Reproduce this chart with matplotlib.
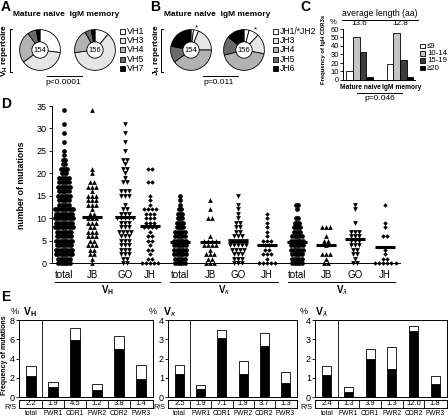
import numpy as np
import matplotlib
matplotlib.use('Agg')
import matplotlib.pyplot as plt
from matplotlib.patches import Circle, Rectangle
from matplotlib.lines import Line2D

plt.rcParams['font.family'] = ['Liberation Sans', 'DejaVu Sans']
plt.rcParams['axes.linewidth'] = 0.7
plt.rcParams['mathtext.fontset'] = 'custom'
plt.rcParams['mathtext.rm'] = 'Liberation Sans'
plt.rcParams['mathtext.bf'] = 'Liberation Sans:bold'

# ---- data ----
n_seq = [154, 156]
vh_labels = ['VH1', 'VH3', 'VH4', 'VH5', 'VH7']
vh_naive = [27, 38, 25, 7, 3]
vh_memory = [11, 62, 19, 5, 3]
jh_labels = ['JH1/*JH2', 'JH3', 'JH4', 'JH5', 'JH6']
jh_naive = [2, 4, 19, 40, 13, 22]      # JH1, JH2, JH3, JH4, JH5, JH6
jh_memory = [4, 8, 16, 43, 15, 14]

cdr3_labels = ['\u22649', '10-14', '15-19', '\u226520']
cdr3_groups = ['Mature naive', 'IgM memory']
cdr3_naive = [11, 51, 33, 4]
cdr3_memory = [19, 55, 24, 4]
cdr3_avg = ['13.6', '12.8']

# number of sequences with 0, 1, 2, ... mutations
vh_total = [6, 6, 8, 8, 7, 8, 7, 7, 9, 8, 9, 8, 9, 5, 5, 6, 5, 6, 5, 5, 3, 4, 2, 2, 1, 1, 0, 1, 0, 1, 0, 1, 0, 0, 1]
vh_jb = [1, 1, 2, 2, 3, 2, 3, 3, 2, 3, 3, 2, 1, 3, 3, 3, 1, 3, 2, 0, 1, 1, 0, 0, 0, 0, 0, 0, 0, 0, 0, 0, 0, 0, 1]
vh_go = [2, 2, 3, 3, 3, 3, 3, 4, 3, 3, 5, 3, 2, 1, 0, 3, 3, 0, 2, 1, 1, 2, 1, 2, 0, 1, 0, 1, 0, 1, 0, 1]
vh_jh = [5, 2, 1, 2, 1, 2, 2, 1, 4, 3, 3, 3, 4, 1, 1, 1, 0, 0, 2, 0, 0, 2]
vk_total = [5, 5, 6, 6, 6, 6, 5, 5, 4, 4, 3, 3, 2, 1, 1, 1]
vk_jb = [3, 2, 3, 1, 4, 4, 1, 0, 0, 0, 2, 0, 1, 0, 1]
vk_go = [3, 3, 3, 4, 5, 5, 3, 2, 2, 2, 1, 1, 1, 1, 0, 1]
vk_jh = [5, 1, 3, 2, 2, 3, 1, 1, 1, 1, 1, 1]
vl_total = [5, 5, 5, 6, 6, 6, 5, 4, 4, 3, 2, 0, 1, 2]
vl_jb = [2, 1, 3, 0, 1, 2, 1, 0, 3]
vl_go = [2, 1, 2, 2, 3, 3, 3, 3, 0, 1, 0, 0, 1, 1]
vl_jh = [6, 2, 1, 1, 0, 0, 2, 0, 1, 1, 0, 0, 0, 1]
mut_groups = ['total', 'JB', 'GO', 'JH'] * 3
mut_means = [10.5, 10.2, 10.2, 8.3, 4.6, 4.7, 4.8, 4.0, 4.6, 4.0, 5.3, 3.6]

regions = ['total', 'FWR1', 'CDR1', 'FWR2', 'CDR2', 'FWR3']
vh_r = [2.2, 1.0, 5.9, 0.75, 5.0, 1.9]
vh_s = [1.0, 0.55, 1.3, 0.6, 1.3, 1.4]
vh_rs = ['2.2', '1.9', '4.5', '1.2', '3.8', '1.4']
vk_r = [1.2, 0.4, 3.05, 1.2, 2.65, 0.75]
vk_s = [0.45, 0.2, 0.45, 0.65, 0.7, 0.55]
vk_rs = ['2.5', '1.9', '7.1', '1.9', '3.7', '1.3']
vl_r = [1.12, 0.26, 2.0, 1.45, 3.42, 0.7]
vl_s = [0.48, 0.24, 0.5, 1.15, 0.28, 0.4]
vl_rs = ['2.4', '1.3', '3.9', '1.3', '12.0', '1.8']

# ---- layout helpers (pixel coordinates, origin top-left) ----
W, H = 448, 419
fig = plt.figure(figsize=(W / 100, H / 100), dpi=100)


def box(l, t, r, b):
    return [l / W, 1 - b / H, (r - l) / W, (b - t) / H]


def ftxt(x, y, s, **kw):
    kw.setdefault('ha', 'center')
    kw.setdefault('va', 'center')
    fig.text(x / W, 1 - y / H, s, **kw)


def fline(xs, ys, lw=0.7):
    fig.add_artist(Line2D([x / W for x in xs], [1 - y / H for y in ys],
                          color='black', lw=lw, transform=fig.transFigure))


def frect(x, y, w, h, fc):
    fig.add_artist(Rectangle((x / W, 1 - (y + h) / H), w / W, h / H, facecolor=fc,
                             edgecolor='black', lw=0.6, transform=fig.transFigure))


def donut(cx, cy, r, vals, colors, n, star=None):
    ax = fig.add_axes(box(cx - r, cy - r, cx + r, cy + r))
    ax.pie(vals, colors=colors, startangle=90, counterclock=False, radius=1,
           wedgeprops=dict(edgecolor='black', linewidth=0.6))
    ax.add_patch(Circle((0, 0), 0.4, facecolor='white', edgecolor='black', lw=0.6, zorder=5))
    ax.text(0, 0, str(n), ha='center', va='center', fontsize=5.5, zorder=6)
    if star is not None:
        a = (sum(vals[:star]) + vals[star] / 2) / sum(vals) * 2 * np.pi
        ax.text(1.12 * np.sin(a), 1.12 * np.cos(a), '*', ha='center', va='center', fontsize=6)
    ax.set_xlim(-1.03, 1.03)
    ax.set_ylim(-1.03, 1.03)
    ax.set_aspect('equal')
    ax.axis('off')


greys = ['white', '#e6e6e6', '#b2b2b2', '#6a6a6a', 'black']

# ---- A ----
ftxt(1, 0, 'A', ha='left', va='top', fontsize=10, fontweight='bold')
ftxt(66, 15, 'Mature naive  IgM memory', fontsize=6, fontweight='bold')
donut(40, 50, 21, vh_naive, greys, n_seq[0])
donut(95, 50, 21, vh_memory, greys, n_seq[1])
for i, lab in enumerate(vh_labels):
    frect(120, 29 + i * 9.2, 5, 5, greys[i])
    ftxt(127, 31.5 + i * 9.2, lab, ha='left', fontsize=6.5)
fline([12, 10, 10, 12], [29, 29, 72, 72])
ftxt(5, 50, 'V$_\\mathregular{H}$ repertoire', rotation=90, fontsize=6, fontweight='bold')
fline([47, 82], [76, 76])
ftxt(63, 82, 'p<0.0001', fontsize=6)

# ---- B ----
ftxt(150, 0, 'B', ha='left', va='top', fontsize=10, fontweight='bold')
ftxt(217, 15, 'Mature naive  IgM memory', fontsize=6, fontweight='bold')
jh_cols = ['white'] + greys
donut(191, 50, 21, jh_naive, jh_cols, n_seq[0], star=1)
donut(244, 50, 21, jh_memory, jh_cols, n_seq[1], star=1)
for i, lab in enumerate(jh_labels):
    frect(273, 29 + i * 9.2, 5, 5, greys[i])
    ftxt(280, 31.5 + i * 9.2, lab, ha='left', fontsize=6.2)
fline([163, 161, 161, 163], [29, 29, 72, 72])
ftxt(156, 50, 'J$_\\mathregular{H}$ repertoire', rotation=90, fontsize=6, fontweight='bold')
fline([203, 238], [76, 76])
ftxt(219, 82, 'p=0.011', fontsize=6)

# ---- C ----
ftxt(300, 0, 'C', ha='left', va='top', fontsize=10, fontweight='bold')
ftxt(380, 14, 'average length (aa)', fontsize=6.2)
fline([342, 418], [20, 20])
ftxt(333, 22, '%', fontsize=5.5)
axc = fig.add_axes(box(343, 29, 415, 80))
c_cols = ['white', '#c4c4c4', '#3c3c3c', 'black']
for g, vals in enumerate([cdr3_naive, cdr3_memory]):
    xs = np.arange(4) + 6 * g
    axc.bar(xs, vals, width=1, color=c_cols, edgecolor='black', lw=0.6)
    axc.text(1.5 + 6 * g, 62, cdr3_avg[g], ha='center', va='bottom', fontsize=5.8, clip_on=False)
axc.set_xlim(-1.0, 9.75)
axc.set_ylim(0, 60)
axc.set_yticks(range(0, 61, 10))
axc.set_xticks([1.6, 7.7])
axc.set_xticklabels(cdr3_groups, fontsize=4.8, fontweight='bold')
axc.tick_params(axis='x', length=0, pad=3)
axc.tick_params(axis='y', labelsize=5.5, length=2, width=0.6, pad=1)
axc.spines[['top', 'right']].set_visible(False)
for i, lab in enumerate(cdr3_labels):
    frect(420, 44 + i * 7.2, 4.5, 4.5, c_cols[i])
    ftxt(427, 46.5 + i * 7.2, lab, ha='left', fontsize=5.6)
ftxt(323, 49, 'Frequency of IgH CDR3s', rotation=90, fontsize=4.2, fontweight='bold')
fline([357, 402], [93, 93])
ftxt(380, 98, 'p=0.046', fontsize=6)

# ---- D ----
ftxt(1, 97, 'D', ha='left', va='top', fontsize=10, fontweight='bold')
axd = fig.add_axes(box(52, 106, 400, 263))
x_pos = [64, 92, 125, 150, 180, 210, 238, 267, 297, 326, 355, 385]
all_counts = [vh_total, vh_jb, vh_go, vh_jh, vk_total, vk_jb, vk_go, vk_jh,
              vl_total, vl_jb, vl_go, vl_jh]
markers = {'total': ('o', 3.4), 'JB': ('^', 3.4), 'GO': ('v', 3.4), 'JH': ('D', 2.3)}
for i, counts in enumerate(all_counts):
    mk, ms = markers[mut_groups[i]]
    dx = 2.3 if mut_groups[i] == 'total' else 4.2
    xs, ys = [], []
    for v, c in enumerate(counts):
        for k in range(c):
            xs.append(x_pos[i] + (k - (c - 1) / 2) * dx)
            ys.append(v)
    axd.plot(xs, ys, ls='none', marker=mk, ms=ms, color='black', mew=0, clip_on=False)
    axd.plot([x_pos[i] - 10, x_pos[i] + 10], [mut_means[i]] * 2, color='black', lw=2.2,
             solid_capstyle='butt')
axd.set_xlim(52, 400)
axd.set_ylim(0, 35)
axd.set_yticks(range(0, 36, 5))
axd.set_xticks(x_pos)
axd.set_xticklabels(mut_groups, fontsize=7)
axd.tick_params(axis='x', length=0, pad=5)
axd.tick_params(axis='y', labelsize=6.5, length=2.5, width=0.6, pad=1.5)
axd.spines[['top', 'right']].set_visible(False)
ftxt(21, 185, 'number of mutations', rotation=90, fontsize=6.3, fontweight='bold')
for (x0, x1), lab in zip([(55, 160), (170, 278), (288, 395)],
                         ['$\\mathbf{V_H}$', '$\\mathbf{V}_\\kappa$', '$\\mathbf{V}_\\lambda$']):
    fline([x0, x1], [282, 282])
    ftxt((x0 + x1) / 2, 290, lab, fontsize=7, fontweight='bold')

# ---- E ----
ftxt(1, 290, 'E', ha='left', va='top', fontsize=10, fontweight='bold')
ftxt(5, 355, 'Frequency of mutations', rotation=90, fontsize=5, fontweight='bold')
e_panels = [(vh_r, vh_s, vh_rs, 8, '$\\mathbf{V_H}$'),
            (vk_r, vk_s, vk_rs, 4, '$\\mathbf{V}_\\kappa$'),
            (vl_r, vl_s, vl_rs, 4, '$\\mathbf{V}_\\lambda$')]
e_left = [19, 168, 315]
e_right = [153, 297, 447]
pct_x = [15, 153, 304]
title_x = [23, 163, 315]
for j, (rv, sv, rs, ymax, title) in enumerate(e_panels):
    ax = fig.add_axes(box(e_left[j], 320, e_right[j], 397))
    x = np.arange(len(regions))
    ax.bar(x, rv, width=0.42, color='black', edgecolor='black', lw=0.6)
    ax.bar(x, sv, bottom=rv, width=0.42, color='white', edgecolor='black', lw=0.6)
    ax.axvline(0.5, color='black', lw=0.6)
    ax.set_xlim(-0.55, 5.55)
    ax.set_ylim(0, ymax)
    ax.set_yticks(range(0, ymax + 1, 2 if ymax == 8 else 1))
    ax.set_xticks([])
    ax.tick_params(axis='y', labelsize=6.5, length=2, width=0.6, pad=1)
    ftxt(pct_x[j], 311, '%', fontsize=6.5)
    ftxt(title_x[j], 312, title, ha='left', fontsize=7.5, fontweight='bold')
    rax = fig.add_axes(box(e_left[j], 399.5, e_right[j], 407.5))
    rax.set_xlim(-0.55, 5.55)
    rax.set_ylim(0, 1)
    for b in np.arange(0.5, 5, 1):
        rax.axvline(b, color='black', lw=0.6)
    for xi, t in zip(x, rs):
        rax.text(xi, 0.5, t, ha='center', va='center', fontsize=5.5)
    rax.set_yticks([])
    rax.set_xticks(x)
    rax.set_xticklabels(regions, fontsize=4.9)
    rax.tick_params(axis='x', length=0, pad=2)
    rax.text(-0.02, 0.05, 'R/S', transform=rax.transAxes, ha='right', va='center', fontsize=5.2)

fig.savefig('out.png', dpi=100)
